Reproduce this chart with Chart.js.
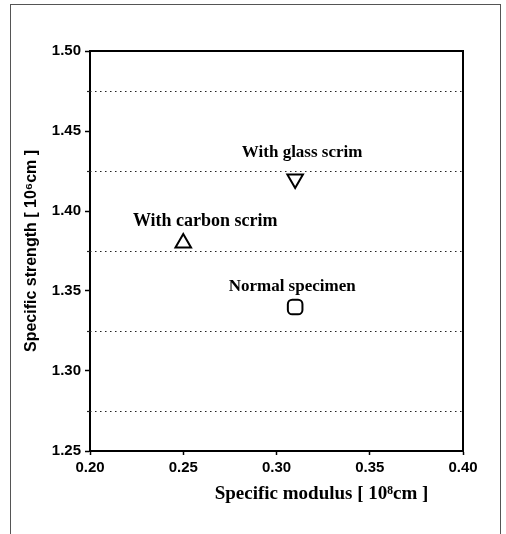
<!DOCTYPE html>
<html><head><meta charset="utf-8">
<script src="https://cdn.jsdelivr.net/npm/chart.js@4/dist/chart.umd.min.js"></script>
<style>
html,body{margin:0;padding:0;background:#fff;}
#wrap{position:relative;width:506px;height:534px;overflow:hidden;}
#frame{position:absolute;left:10px;top:4px;width:489px;height:560px;border:1.5px solid #555;}
canvas{position:absolute;left:0;top:0;}
</style></head><body>
<div id="wrap"><div id="frame"></div><canvas id="c" width="506" height="534"></canvas></div>
<script>
// ---- data ----
const specimens = ['With glass scrim', 'With carbon scrim', 'Normal specimen'];
const modulus = [0.31, 0.25, 0.31];      // 10^8 cm
const strength = [1.42, 1.38, 1.34];     // 10^6 cm
const xTickValues = [0.20, 0.25, 0.30, 0.35, 0.40];
const yTickValues = [1.25, 1.30, 1.35, 1.40, 1.45, 1.50];
const guideLines = [1.275, 1.325, 1.375, 1.425, 1.475];
const xTitle = 'Specific modulus [ 10\u2078cm ]';
const yTitle = 'Specific strength [ 10\u2076cm ]';

// ---- styles ----
const markerStyles = ['triangle', 'triangle', 'rectRounded'];
const markerRotation = [180, 0, 0];
const markerRadius = [9, 9, 8.5];
const labelOffsets = [[7, -26], [22, -22], [-3, -20]];
const labelSizes = [17, 18, 17];

const overlay = {
  id: 'overlay',
  beforeDatasetsDraw(chart) {
    const {ctx, chartArea: a, scales: {y}} = chart;
    ctx.save();
    ctx.strokeStyle = '#222';
    ctx.lineWidth = 1.2;
    ctx.setLineDash([1.5, 3.5]);
    guideLines.forEach(v => {
      const py = Math.round(y.getPixelForValue(v)) + 0.5;
      ctx.beginPath(); ctx.moveTo(a.left, py); ctx.lineTo(a.right, py); ctx.stroke();
    });
    ctx.setLineDash([]);
    guideLines.forEach(v => {
      const py = Math.round(y.getPixelForValue(v)) + 0.5;
      ctx.beginPath(); ctx.moveTo(a.left - 3, py); ctx.lineTo(a.left, py); ctx.stroke();
    });
    ctx.restore();
  },
  afterDraw(chart) {
    const {ctx, chartArea: a, scales: {x, y}} = chart;
    ctx.save();
    ctx.strokeStyle = '#000';
    ctx.lineWidth = 2;
    ctx.beginPath();
    ctx.moveTo(a.left, a.top); ctx.lineTo(a.right, a.top); ctx.lineTo(a.right, a.bottom);
    ctx.stroke();
    ctx.fillStyle = '#000';
    ctx.textAlign = 'center';
    ctx.textBaseline = 'middle';
    specimens.forEach((s, i) => {
      ctx.font = 'bold ' + labelSizes[i] + 'px "Liberation Serif", "Times New Roman", serif';
      const px = x.getPixelForValue(modulus[i]) + labelOffsets[i][0];
      const py = y.getPixelForValue(strength[i]) + labelOffsets[i][1];
      ctx.fillText(s, px, py);
    });
    ctx.font = 'bold 19px "Liberation Serif", "Times New Roman", serif';
    ctx.fillText(xTitle, (a.left + a.right) / 2 + 45, 494);
    ctx.restore();
  }
};

new Chart(document.getElementById('c'), {
  type: 'scatter',
  data: {
    datasets: specimens.map((s, i) => ({
      label: s,
      data: [{x: modulus[i], y: strength[i]}],
      pointStyle: markerStyles[i],
      rotation: markerRotation[i],
      radius: markerRadius[i],
      borderColor: '#000',
      backgroundColor: 'rgba(255,255,255,0)',
      borderWidth: 2
    }))
  },
  options: {
    responsive: false,
    animation: false,
    devicePixelRatio: 1,
    layout: {padding: {top: 51, right: 43, left: 0, bottom: 0}},
    plugins: {legend: {display: false}, tooltip: {enabled: false}},
    scales: {
      x: {
        type: 'linear', min: 0.2, max: 0.4,
        afterBuildTicks: s => { s.ticks = xTickValues.map(v => ({value: v})); },
        afterFit: s => { s.height = 83; },
        ticks: {callback: v => v.toFixed(2), color: '#000', padding: 4, maxRotation: 0, autoSkip: false,
                font: {family: 'Liberation Sans', size: 15, weight: 'bold'}},
        grid: {drawOnChartArea: false, drawTicks: true, tickLength: 4, tickColor: '#000', tickWidth: 1.5, color: '#000'},
        border: {color: '#000', width: 2}
      },
      y: {
        type: 'linear', min: 1.25, max: 1.50,
        afterBuildTicks: s => { s.ticks = yTickValues.map(v => ({value: v})); },
        afterFit: s => { s.width = 90; },
        ticks: {callback: v => v.toFixed(2), color: '#000', padding: 4, autoSkip: false,
                font: {family: 'Liberation Sans', size: 15, weight: 'bold'}},
        grid: {drawOnChartArea: false, drawTicks: true, tickLength: 5, tickColor: '#000', tickWidth: 1.5, color: '#000'},
        border: {color: '#000', width: 2},
        title: {display: true, text: yTitle, color: '#000', padding: {top: 22, bottom: 0},
                font: {family: 'Liberation Sans', size: 16, weight: 'bold'}}
      }
    }
  },
  plugins: [overlay]
});
</script>
</body></html>
